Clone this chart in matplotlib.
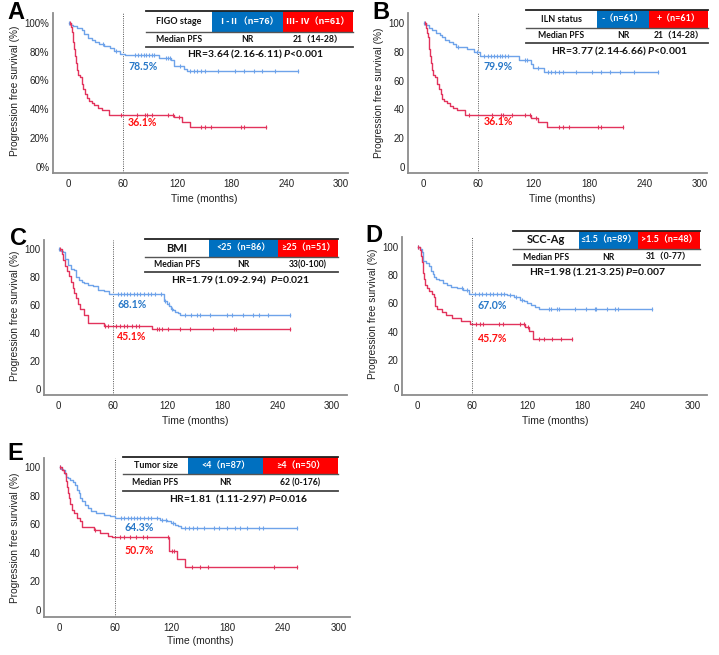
import numpy as np
import matplotlib
matplotlib.use("Agg")
import matplotlib.pyplot as plt
from matplotlib.patches import Rectangle
from matplotlib.lines import Line2D

plt.rcParams['font.family'] = ['Liberation Sans', 'DejaVu Sans']
plt.rcParams['mathtext.fontset'] = 'custom'
plt.rcParams['mathtext.it'] = 'Lato:italic:bold'
plt.rcParams['mathtext.rm'] = 'Lato:bold'

# ---------------- data ----------------
x_ticks = [0, 60, 120, 180, 240, 300]
y_ticks = [0, 20, 40, 60, 80, 100]
y_labels_pct = ['0%', '20%', '40%', '60%', '80%', '100%']
y_labels_num = ['0', '20', '40', '60', '80', '100']

# Panel A (FIGO stage)
A_blue_start = 1
A_blue_t = [3, 6, 10, 15, 18, 22, 26, 30, 34, 40, 46, 51, 57, 63, 100, 113, 116, 127, 131]
A_blue_s = [98.7, 97.4, 96.0, 94.7, 92.0, 89.4, 88.0, 86.6, 85.2, 83.9, 82.5, 80.2, 78.5, 77.3, 75.6, 73.9, 69.6, 67.9, 66.2]
A_blue_c = [38, 53, 74, 77, 80, 83, 86, 89, 92, 95, 108, 110, 112, 123, 134, 138, 142, 146, 151, 165, 184, 193, 204, 213, 228, 253]
A_red_start = 2
A_red_t = [3, 4, 5, 6, 7, 8, 9, 10, 11, 13, 15, 17, 19, 21, 23, 26, 29, 33, 37, 45, 117, 125, 134]
A_red_s = [96.7, 93.4, 90.2, 86.9, 82.0, 77.0, 72.1, 67.2, 63.9, 62.3, 57.4, 54.1, 50.8, 47.5, 45.9, 44.3, 42.6, 41.0, 39.3, 36.1, 34.2, 31.0, 27.7]
A_red_c = [58, 76, 85, 87, 92, 110, 115, 122, 146, 151, 157, 190, 193, 218]

# Panel B (ILN status)
B_blue_start = 1
B_blue_t = [3, 6, 10, 14, 18, 21, 24, 28, 32, 36, 48, 55, 62, 104, 117, 119, 131]
B_blue_s = [98.4, 96.7, 95.1, 93.4, 91.8, 90.2, 88.5, 86.9, 85.2, 83.6, 81.9, 79.9, 76.9, 74.2, 71.2, 68.5, 65.8]
B_blue_c = [38, 58, 66, 70, 74, 77, 80, 83, 86, 89, 92, 110, 113, 125, 135, 139, 143, 147, 152, 166, 183, 193, 203, 213, 228, 255]
B_red_start = 2
B_red_t = [3, 4, 5, 6, 7, 8, 9, 10, 11, 13, 15, 17, 19, 21, 23, 26, 29, 33, 37, 45, 117, 125, 134]
B_red_s = [96.7, 93.4, 90.2, 86.9, 82.0, 77.0, 72.1, 67.2, 63.9, 62.3, 57.4, 54.1, 50.8, 47.5, 45.9, 44.3, 42.6, 41.0, 39.3, 36.1, 34.2, 31.0, 27.7]
B_red_c = [50, 75, 84, 87, 96, 110, 116, 122, 147, 152, 158, 190, 193, 217]

# Panel C (BMI)
C_blue_start = 1.5
C_blue_t = [3, 5, 8, 11, 14, 17, 20, 23, 26, 29, 33, 38, 44, 50, 56, 116, 119, 122, 124, 126, 128, 131, 134]
C_blue_s = [98.8, 97.7, 93.0, 88.4, 86.0, 84.9, 80.2, 77.9, 76.7, 75.6, 74.4, 73.3, 71.0, 69.9, 68.1, 62.8, 61.0, 59.3, 57.5, 56.4, 55.2, 54.0, 52.9]
C_blue_c = [66, 69, 72, 76, 79, 83, 86, 90, 94, 98, 102, 106, 113, 117, 121, 125, 139, 146, 152, 155, 166, 185, 190, 203, 214, 220, 230, 254]
C_red_start = 2
C_red_t = [4, 6, 8, 10, 12, 14, 16, 18, 20, 22, 24, 28, 33, 50, 103]
C_red_s = [96.1, 92.2, 88.2, 84.3, 80.4, 76.5, 72.5, 68.6, 64.7, 60.8, 56.9, 52.9, 47.1, 45.1, 43.1]
C_red_c = [51, 55, 64, 68, 72, 76, 81, 85, 89, 108, 111, 114, 120, 134, 145, 170, 193, 195, 254]

# Panel D (SCC-Ag)
D_blue_start = 1.4
D_blue_t = [3, 5, 6, 7, 10, 13, 15, 17, 19, 21, 24, 28, 33, 37, 44, 50, 56, 98, 105, 112, 116, 120, 124, 128, 133]
D_blue_s = [98.9, 96.6, 93.3, 89.9, 88.8, 86.5, 83.1, 80.9, 78.7, 77.5, 76.4, 74.2, 73.0, 71.9, 70.8, 69.7, 67.0, 66.0, 64.8, 62.5, 61.4, 60.2, 58.9, 57.8, 56.0]
D_blue_c = [49, 54, 63, 67, 71, 75, 79, 83, 87, 91, 95, 101, 108, 114, 143, 146, 152, 154, 172, 184, 193, 195, 206, 215, 219, 255]
D_red_start = 1.5
D_red_t = [3, 4, 5, 6, 7, 8, 9, 11, 13, 16, 18, 20, 22, 27, 32, 38, 48, 58, 117, 122, 126]
D_red_s = [97.9, 93.8, 89.6, 85.4, 81.3, 77.1, 72.9, 70.8, 68.8, 66.7, 64.6, 58.3, 56.3, 54.2, 52.1, 49.9, 47.8, 45.7, 43.0, 40.3, 35.1]
D_red_c = [64, 69, 72, 89, 93, 112, 116, 121, 133, 138, 147, 156, 168]

# Panel E (Tumor size)
E_blue_start = 0.7
E_blue_t = [2, 4, 6, 8, 10, 12, 15, 17, 19, 21, 23, 25, 28, 31, 34, 40, 48, 55, 60, 108, 116, 120, 124, 128, 131]
E_blue_s = [98.9, 97.7, 95.4, 93.1, 92.0, 90.8, 89.7, 87.4, 84.0, 81.6, 78.2, 75.9, 73.6, 71.3, 69.0, 67.8, 66.7, 65.5, 64.3, 63.1, 62.0, 60.8, 59.6, 58.4, 57.3]
E_blue_c = [66, 70, 74, 77, 80, 84, 87, 91, 95, 99, 105, 110, 115, 122, 135, 139, 144, 148, 155, 166, 171, 180, 189, 194, 201, 214, 219, 255]
E_red_start = 1
E_red_t = [3, 5, 7, 8, 9, 10, 11, 12, 14, 16, 19, 22, 25, 37, 44, 52, 57, 118, 126, 135]
E_red_s = [98, 96, 94, 90, 86, 82, 78, 74, 70, 68, 64, 62, 58, 56, 54, 52, 50.7, 41.5, 35.7, 30.1]
E_red_c = [39, 65, 70, 76, 83, 90, 94, 117, 121, 123, 143, 151, 160, 230, 255]

# annotations at 60 months
A_pct = ['78.5%', '36.1%']
B_pct = ['79.9%', '36.1%']
C_pct = ['68.1%', '45.1%']
D_pct = ['67.0%', '45.7%']
E_pct = ['64.3%', '50.7%']

# tables
A_tab = ['FIGO stage', 'Ⅰ-Ⅱ（n=76）', 'Ⅲ- Ⅳ（n=61）', 'Median PFS', 'NR', '21（14-28）',
         'HR=3.64 (2.16-6.11) $P$<0.001']
B_tab = ['ILN status', '-（n=61）', '+（n=61）', 'Median PFS', 'NR', '21（14-28）',
         'HR=3.77 (2.14-6.66) $P$<0.001']
C_tab = ['BMI', '<25（n=86）', '≥25（n=51）', 'Median PFS', 'NR', '33(0-100)',
         'HR=1.79 (1.09-2.94)  $P$=0.021']
D_tab = ['SCC-Ag', '≤1.5（n=89）', '>1.5（n=48）', 'Median PFS', 'NR', '31（0-77）',
         'HR=1.98 (1.21-3.25) $P$=0.007']
E_tab = ['Tumor size', '<4（n=87）', '≥4（n=50）', 'Median PFS', 'NR', '62 (0-176)',
         'HR=1.81  (1.11-2.97) $P$=0.016']

# ---------------- drawing ----------------
W, H = 719, 655
fig = plt.figure(figsize=(W / 100, H / 100), dpi=100)
fig.patch.set_facecolor('white')

BLUE_LINE = '#6ea3ea'
RED_LINE = '#e2335c'
BLUE_TXT = '#2878c8'
RED_TXT = '#ff1010'
CELL_BLUE = '#0070c0'
CELL_RED = '#ff0000'
TFONT = ['Lato', 'Noto Sans CJK SC', 'DejaVu Sans']
CJKFONT = ['Noto Sans CJK SC', 'DejaVu Sans']


def fx(x):
    return x / W


def fy(y):
    return 1 - y / H


def km(ax, start, t, s, c, color):
    tt = np.concatenate([[start], t])
    ss = np.concatenate([[100.0], s])
    end = max(c)
    tx = np.concatenate([tt, [end]])
    sx = np.concatenate([ss, [ss[-1]]])
    ax.step(tx, sx, where='post', color=color, lw=1.0, zorder=3)
    idx = np.searchsorted(tt, c, side='right') - 1
    ax.plot(c, ss[idx], ls='none', marker='|', ms=3.5, mew=0.8, color=color, zorder=3)
    ax.plot([start], [100], ls='none', marker='|', ms=3.5, mew=0.8, color=color, zorder=3)


def panel(box, cal, curves, pct, pct_pos, ylabels, letter, letter_xy, ylab_xy, xlab_xy):
    l, r, t, b = box
    x0, x300, y0, y100 = cal
    k = (x300 - x0) / 300.0
    m = (y0 - y100) / 100.0
    ax = fig.add_axes([fx(l), fy(b), (r - l) / W, (b - t) / H])
    ax.set_xlim((l - x0) / k, (r - x0) / k)
    ax.set_ylim((y0 - b) / m, (y0 - t) / m)
    for sp in ['top', 'right']:
        ax.spines[sp].set_visible(False)
    for sp in ['left', 'bottom']:
        ax.spines[sp].set_color('#8c8c8c')
        ax.spines[sp].set_linewidth(1.3)
    ax.set_xticks(x_ticks)
    ax.set_yticks(y_ticks)
    ax.set_yticklabels(ylabels)
    ax.tick_params(length=0, labelsize=7, colors='#222222')
    ax.tick_params(axis='x', pad=4)
    ax.tick_params(axis='y', pad=2.5)
    ax.axvline(60, color='#555555', ls=(0, (1, 1.3)), lw=0.7, zorder=2)
    (bst, bt, bs, bc), (rst, rt, rs, rc) = curves
    km(ax, bst, bt, bs, bc, BLUE_LINE)
    km(ax, rst, rt, rs, rc, RED_LINE)
    (px_, by_), (_, ry_) = pct_pos
    ax.text(px_, by_, pct[0], color=BLUE_TXT, fontsize=7.6, fontweight='bold', family=TFONT,
            ha='left', va='center', zorder=4)
    ax.text(px_, ry_, pct[1], color=RED_TXT, fontsize=7.6, fontweight='bold', family=TFONT,
            ha='left', va='center', zorder=4)
    ax.set_ylabel('Progression free survival (%)', fontsize=7.3, color='#222222')
    ax.yaxis.set_label_coords(fx(ylab_xy[0]), fy(ylab_xy[1]), transform=fig.transFigure)
    ax.yaxis.label.set_va('center')
    ax.set_xlabel('Time (months)', fontsize=7.5, color='#222222')
    ax.xaxis.set_label_coords(fx(xlab_xy[0]), fy(xlab_xy[1]), transform=fig.transFigure)
    ax.xaxis.label.set_va('center')
    fig.text(fx(letter_xy[0]), fy(letter_xy[1]), letter, fontsize=17, fontweight='bold',
             ha='left', va='top', color='black')
    return ax


def table(geom, tab, hdr_fs=6.5, cell_family=TFONT):
    l, cb, cr, r, top, mid, bot, hr_x, hr_y = geom
    tr = fig.transFigure
    fig.patches.append(Rectangle((fx(cb), fy(mid)), (cr - cb) / W, (mid - top) / H,
                                 transform=tr, facecolor=CELL_BLUE, edgecolor='none', zorder=5))
    fig.patches.append(Rectangle((fx(cr), fy(mid)), (r - cr) / W, (mid - top) / H,
                                 transform=tr, facecolor=CELL_RED, edgecolor='none', zorder=5))
    fig.lines.append(Line2D([fx(l), fx(r)], [fy(top), fy(top)], transform=tr, color='#222222', lw=1.3, zorder=6))
    fig.lines.append(Line2D([fx(l), fx(r)], [fy(mid), fy(mid)], transform=tr, color='#555555', lw=1.0, zorder=6))
    fig.lines.append(Line2D([fx(l), fx(r)], [fy(bot), fy(bot)], transform=tr, color='#444444', lw=1.3, zorder=6))
    y1 = (top + mid) / 2
    y2 = (mid + bot) / 2
    kw = dict(ha='center', va='center', fontweight='bold', zorder=7)
    fig.text(fx((l + cb) / 2), fy(y1), tab[0], fontsize=hdr_fs, color='#111111', family=TFONT, **kw)
    fig.text(fx((cb + cr) / 2), fy(y1), tab[1], fontsize=6.5, color='white', family=cell_family, **kw)
    fig.text(fx((cr + r) / 2), fy(y1), tab[2], fontsize=6.5, color='white', family=cell_family, **kw)
    fig.text(fx((l + cb) / 2), fy(y2), tab[3], fontsize=6.2, color='#111111', family=TFONT, **kw)
    fig.text(fx((cb + cr) / 2), fy(y2), tab[4], fontsize=6.2, color='#111111', family=TFONT, **kw)
    fig.text(fx((cr + r) / 2), fy(y2), tab[5], fontsize=6.2, color='#111111', family=TFONT, **kw)
    fig.text(fx(hr_x), fy(hr_y), tab[6], fontsize=7.5, color='#111111', family=TFONT, **kw)


# Panel A
panel((53, 348, 13, 173), (68, 341, 166.7, 22.7),
      [(A_blue_start, A_blue_t, A_blue_s, A_blue_c), (A_red_start, A_red_t, A_red_s, A_red_c)],
      A_pct, [(66, 69.5), (66, 30.6)], y_labels_pct, 'A', (7, 1), (15, 91), (204, 199))
table((146, 212, 283, 353, 11, 32, 47, 255, 54.5), A_tab, cell_family=CJKFONT)

# Panel B
panel((408, 707, 13, 173), (423, 700, 167, 23),
      [(B_blue_start, B_blue_t, B_blue_s, B_blue_c), (B_red_start, B_red_t, B_red_s, B_red_c)],
      B_pct, [(66, 70.1), (66, 31.5)], y_labels_num, 'B', (372, 1), (379, 93), (562, 199))
table((526, 597, 649, 708, 10, 28, 43, 619, 51.5), B_tab)

# Panel C
panel((44, 347, 240, 395), (58, 332, 389, 249),
      [(C_blue_start, C_blue_t, C_blue_s, C_blue_c), (C_red_start, C_red_t, C_red_s, C_red_c)],
      C_pct, [(64.6, 60), (64.6, 37.4)], y_labels_num, 'C', (10, 227), (15, 316), (195, 421))
table((145, 209, 278, 338, 239, 257, 272, 241, 280.5), C_tab, hdr_fs=8)

# Panel D
panel((402, 707, 237, 395), (417, 693, 388, 247),
      [(D_blue_start, D_blue_t, D_blue_s, D_blue_c), (D_red_start, D_red_t, D_red_s, D_red_c)],
      D_pct, [(66, 58.2), (66, 34.8)], y_labels_num, 'D', (365, 224), (373, 314), (555, 421))
table((513, 579, 638, 700, 231, 249, 265, 598, 272.5), D_tab, hdr_fs=8)

# Panel E
panel((44, 350, 458, 617), (59, 339, 610, 467),
      [(E_blue_start, E_blue_t, E_blue_s, E_blue_c), (E_red_start, E_red_t, E_red_s, E_red_c)],
      E_pct, [(69.7, 58), (69.7, 41.5)], y_labels_num, 'E', (7, 442), (15, 538), (200, 641))
table((123, 188, 263, 338, 457, 474, 491, 239, 499), E_tab)

fig.savefig('out.png', dpi=100, facecolor='white')
